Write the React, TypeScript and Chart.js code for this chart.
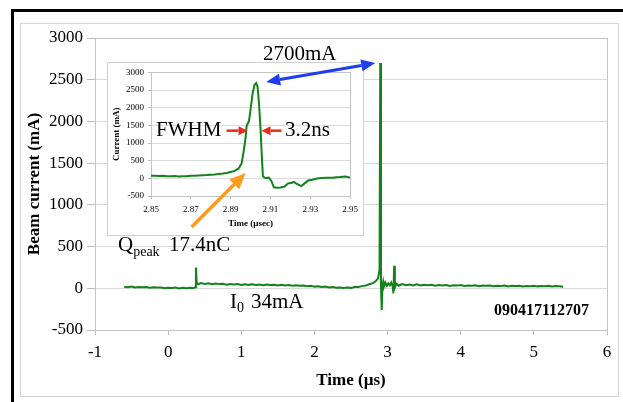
import React, { useEffect, useRef } from 'react';
import { Chart, registerables } from 'chart.js';

Chart.register(...registerables);

const SERIF = '"Liberation Serif", "Times New Roman", serif';
const GREEN = '#14821c';

// ---- main trace (time in µs, current in mA) ----
const mainTime = [
  -0.6, -0.55, -0.5, -0.45, -0.4, -0.35, -0.3, -0.25, -0.2, -0.15, -0.1, -0.05,
  0.0, 0.05, 0.1, 0.15, 0.2, 0.25, 0.3, 0.35, 0.37, 0.38, 0.39, 0.41,
  0.45, 0.5, 0.55, 0.6, 0.65, 0.7, 0.75, 0.8, 0.85, 0.9, 0.95, 1.0,
  1.05, 1.1, 1.15, 1.2, 1.25, 1.3, 1.35, 1.4, 1.45, 1.5, 1.55, 1.6,
  1.65, 1.7, 1.75, 1.8, 1.85, 1.9, 1.95, 2.0, 2.05, 2.1, 2.15, 2.2,
  2.25, 2.3, 2.35, 2.4, 2.45, 2.5, 2.55, 2.6, 2.65, 2.7, 2.75, 2.8,
  2.84, 2.87, 2.89, 2.9, 2.91, 2.92, 2.93, 2.94, 2.95, 2.97, 2.99, 3.01,
  3.03, 3.05, 3.07, 3.08, 3.09, 3.1, 3.12, 3.15,
  3.2, 3.25, 3.3, 3.35, 3.4, 3.45, 3.5, 3.55, 3.6, 3.65, 3.7, 3.75, 3.8, 3.85, 3.9, 3.95,
  4.0, 4.05, 4.1, 4.15, 4.2, 4.25, 4.3, 4.35, 4.4, 4.45, 4.5, 4.55,
  4.6, 4.65, 4.7, 4.75, 4.8, 4.85, 4.9, 4.95,
  5.0, 5.05, 5.1, 5.15, 5.2, 5.25, 5.3, 5.35, 5.4,
];
const mainCurrent = [
  18, 12, 20, 9, 14, 11, 16, 6, 12, 8, 10, 2,
  7, 4, 8, -2, 5, 1, 6, 3, 12, 250, 70, 48,
  62, 52, 60, 48, 57, 50, 54, 44, 52, 46, 50, 40,
  49, 41, 47, 40, 46, 37, 44, 38, 42, 34, 41, 33,
  39, 31, 36, 30, 34, 25, 30, 20, 25, 15, 20, 9,
  14, 6, 10, 3, 9, 5, 14, 15, 26, 34, 48, 62,
  88, 120, 220, 2700, 20, -260, 40, 80, 20, 70, 30, 60,
  35, 70, 20, -60, 270, 10, 55, 30,
  50, 38, 46, 35, 47, 33, 41, 36, 43, 30, 39, 34, 40, 28, 36, 32,
  38, 27, 34, 30, 36, 25, 32, 29, 34, 24, 30, 27,
  32, 22, 29, 26, 31, 22, 28, 25,
  31, 23, 28, 24, 30, 22, 27, 23, 18,
];
const mainXTicks = [-1, 0, 1, 2, 3, 4, 5, 6];
const mainYTicks = [-500, 0, 500, 1000, 1500, 2000, 2500, 3000];

// ---- inset: zoom on the bunch ----
const insetTime = [
  2.85, 2.852, 2.854, 2.856, 2.858, 2.86, 2.862, 2.864, 2.866, 2.868, 2.87, 2.872,
  2.874, 2.876, 2.878, 2.88, 2.882, 2.884, 2.886, 2.888, 2.89, 2.892, 2.894, 2.8955,
  2.8965, 2.8975, 2.898, 2.8992, 2.9, 2.901, 2.902, 2.9028, 2.9035, 2.9042, 2.905, 2.9056,
  2.9062, 2.907, 2.908, 2.9092, 2.9105, 2.9117, 2.913, 2.915, 2.917, 2.919, 2.9205, 2.9217,
  2.923, 2.924, 2.9255, 2.927, 2.929, 2.931, 2.934, 2.936, 2.938, 2.941, 2.943, 2.945,
  2.9475, 2.95,
];
const insetCurrent = [
  70, 75, 65, 72, 60, 58, 66, 55, 62, 58, 70, 72,
  80, 90, 95, 105, 110, 125, 135, 150, 180, 210, 280, 420,
  750, 1150, 1480, 1620, 1950, 2400, 2650, 2700, 2600, 2150, 1400, 700,
  60, 20, 10, 20, -80, -253, -265, -260, -230, -140, -130, -100,
  -150, -180, -220, -150, -60, -40, 0, 10, 20, 20, 30, 35,
  50, 20,
];
const insetXTicks = [2.85, 2.87, 2.89, 2.91, 2.93, 2.95];
const insetYTicks = [-500, 0, 500, 1000, 1500, 2000, 2500, 3000];

// annotation anchors (data units)
const mainPeak = { x: 2.9, y: 2700 };
const insetPeak = { x: 2.9028, y: 2700 };
const fwhm = { left: 2.8985, right: 2.9055, level: 1350 };
const chargeMark = { x: 2.8975, y: 150 };

const framePlugin = {
  id: 'plotFrame',
  beforeDatasetsDraw(chart: any, _a: any, opts: any) {
    const { ctx, chartArea: a } = chart;
    ctx.save();
    ctx.strokeStyle = opts.color || '#c4c4c4';
    ctx.lineWidth = 1;
    ctx.strokeRect(
      Math.round(a.left) + 0.5,
      Math.round(a.top) + 0.5,
      Math.round(a.right - a.left),
      Math.round(a.bottom - a.top)
    );
    ctx.restore();
  },
};

function drawArrowHead(ctx: CanvasRenderingContext2D, tipX: number, tipY: number, fromX: number, fromY: number, len: number, half: number) {
  const ang = Math.atan2(tipY - fromY, tipX - fromX);
  const bx = tipX - len * Math.cos(ang);
  const by = tipY - len * Math.sin(ang);
  ctx.beginPath();
  ctx.moveTo(tipX, tipY);
  ctx.lineTo(bx + half * Math.sin(ang), by - half * Math.cos(ang));
  ctx.lineTo(bx - half * Math.sin(ang), by + half * Math.cos(ang));
  ctx.closePath();
  ctx.fill();
  return { bx, by };
}

function drawArrow(
  ctx: CanvasRenderingContext2D,
  x1: number, y1: number, x2: number, y2: number,
  color: string, width: number, len: number, half: number, both: boolean
) {
  ctx.save();
  ctx.strokeStyle = color;
  ctx.fillStyle = color;
  ctx.lineWidth = width;
  const end = drawArrowHead(ctx, x2, y2, x1, y1, len, half);
  let start = { bx: x1, by: y1 };
  if (both) start = drawArrowHead(ctx, x1, y1, x2, y2, len, half);
  ctx.beginPath();
  ctx.moveTo(start.bx, start.by);
  ctx.lineTo(end.bx, end.by);
  ctx.stroke();
  ctx.restore();
}

const INSET_LEFT = 107;
const INSET_TOP = 62;
const INSET_W = 255;
const INSET_H = 172;

const plain = (v: any) => String(v);

export default function App() {
  const mainRef = useRef<HTMLCanvasElement>(null);
  const insetRef = useRef<HTMLCanvasElement>(null);
  const overlayRef = useRef<HTMLCanvasElement>(null);

  useEffect(() => {
    document.body.style.margin = '0';
    const tickColor = '#bdbdbd';

    const main = new Chart(mainRef.current!, {
      type: 'scatter',
      data: {
        datasets: [
          {
            data: mainTime.map((t, i) => ({ x: t, y: mainCurrent[i] })),
            showLine: true,
            borderColor: GREEN,
            borderWidth: 2,
            pointRadius: 0,
            tension: 0,
          },
        ],
      },
      options: {
        animation: false,
        responsive: false,
        maintainAspectRatio: false,
        devicePixelRatio: 1,
        layout: { padding: { left: 20, right: 16, top: 38, bottom: 7 } },
        plugins: {
          legend: { display: false },
          tooltip: { enabled: false },
          plotFrame: { color: '#c4c4c4' },
        } as any,
        scales: {
          x: {
            type: 'linear',
            min: -1,
            max: 6,
            afterBuildTicks: (s: any) => { s.ticks = mainXTicks.map((v) => ({ value: v })); },
            afterFit: (s: any) => { s.height = 65; },
            ticks: { color: '#000', font: { family: SERIF, size: 17 }, padding: 7, maxRotation: 0, autoSkip: false, callback: plain },
            grid: { drawOnChartArea: false, drawTicks: true, tickLength: 5, color: tickColor },
            border: { color: tickColor },
            title: {
              display: true,
              text: 'Time (µs)',
              color: '#000',
              font: { family: SERIF, size: 17, weight: 'bold' },
              padding: { top: 4, bottom: 4 },
            },
          },
          y: {
            type: 'linear',
            min: -500,
            max: 3000,
            afterBuildTicks: (s: any) => { s.ticks = mainYTicks.map((v) => ({ value: v })); },
            afterFit: (s: any) => { s.width = 75; },
            ticks: { color: '#000', font: { family: SERIF, size: 17 }, padding: 4, autoSkip: false, callback: plain },
            grid: { color: '#d9d9d9', tickColor: tickColor, tickLength: 8 },
            border: { color: tickColor },
            title: {
              display: true,
              text: 'Beam current (mA)',
              color: '#000',
              font: { family: SERIF, size: 17, weight: 'bold' },
              padding: { top: 4, bottom: 4 },
            },
          },
        },
      } as any,
      plugins: [framePlugin],
    });

    const inset = new Chart(insetRef.current!, {
      type: 'scatter',
      data: {
        datasets: [
          {
            data: insetTime.map((t, i) => ({ x: t, y: insetCurrent[i] })),
            showLine: true,
            borderColor: GREEN,
            borderWidth: 2,
            pointRadius: 0,
            tension: 0,
          },
        ],
      },
      options: {
        animation: false,
        responsive: false,
        maintainAspectRatio: false,
        devicePixelRatio: 1,
        layout: { padding: { left: 0, right: 10, top: 8, bottom: 5 } },
        plugins: {
          legend: { display: false },
          tooltip: { enabled: false },
          plotFrame: { color: '#c4c4c4' },
        } as any,
        scales: {
          x: {
            type: 'linear',
            min: 2.85,
            max: 2.95,
            afterBuildTicks: (s: any) => { s.ticks = insetXTicks.map((v) => ({ value: v })); },
            afterFit: (s: any) => { s.height = 34; },
            ticks: {
              color: '#000',
              font: { family: SERIF, size: 9 },
              padding: 5,
              maxRotation: 0,
              autoSkip: false,
              callback: (v: any) => Number(v).toFixed(2),
            },
            grid: { drawOnChartArea: false, drawTicks: true, tickLength: 3, color: tickColor },
            border: { color: tickColor },
            title: {
              display: true,
              text: 'Time (µsec)',
              color: '#000',
              font: { family: SERIF, size: 9, weight: 'bold' },
              padding: { top: 0, bottom: 1 },
            },
          },
          y: {
            type: 'linear',
            min: -500,
            max: 3000,
            afterBuildTicks: (s: any) => { s.ticks = insetYTicks.map((v) => ({ value: v })); },
            afterFit: (s: any) => { s.width = 43; },
            ticks: { color: '#000', font: { family: SERIF, size: 9 }, padding: 4, autoSkip: false, callback: plain },
            grid: { color: '#dcdcdc', tickColor: tickColor, tickLength: 3 },
            border: { color: tickColor },
            title: {
              display: true,
              text: 'Current (mA)',
              color: '#000',
              font: { family: SERIF, size: 9, weight: 'bold' },
              padding: { top: 3, bottom: 0 },
            },
          },
        },
      } as any,
      plugins: [framePlugin],
    });

    // overlay: arrows and labels
    const ov = overlayRef.current!;
    const ctx = ov.getContext('2d')!;
    ctx.clearRect(0, 0, ov.width, ov.height);
    const ox = INSET_LEFT + 1;
    const oy = INSET_TOP + 1;
    const ix = (v: number) => ox + inset.scales.x.getPixelForValue(v);
    const iy = (v: number) => oy + inset.scales.y.getPixelForValue(v);
    const mx = (v: number) => main.scales.x.getPixelForValue(v);
    const my = (v: number) => main.scales.y.getPixelForValue(v);

    // blue double arrow: inset peak <-> main peak
    drawArrow(ctx, ix(insetPeak.x) + 10, iy(insetPeak.y) - 1, mx(mainPeak.x) - 5, my(mainPeak.y), '#1f3cf0', 3, 14, 6, true);
    // red FWHM arrows
    drawArrow(ctx, ix(fwhm.left) - 21, iy(fwhm.level), ix(fwhm.left), iy(fwhm.level), '#ee2a1c', 2.5, 9, 4.5, false);
    drawArrow(ctx, ix(fwhm.right) + 20, iy(fwhm.level), ix(fwhm.right), iy(fwhm.level), '#ee2a1c', 2.5, 9, 4.5, false);
    // orange charge arrow
    drawArrow(ctx, ix(chargeMark.x) - 54, iy(chargeMark.y) + 54, ix(chargeMark.x), iy(chargeMark.y), '#ff9b1a', 3.5, 16, 7, false);

    ctx.fillStyle = '#000';
    ctx.textBaseline = 'middle';
    ctx.textAlign = 'left';
    ctx.font = `21px ${SERIF}`;
    ctx.fillText('2700mA', 263, 54);
    ctx.fillText('FWHM', 156, 130);
    ctx.fillText('3.2ns', 285, 130);
    ctx.fillText('Q', 118, 245);
    const qw = ctx.measureText('Q').width;
    ctx.fillText('17.4nC', 169, 245);
    ctx.fillText('I', 230, 302);
    const iw = ctx.measureText('I').width;
    ctx.fillText('34mA', 251, 302);
    ctx.font = `14px ${SERIF}`;
    ctx.fillText('peak', 118 + qw, 252);
    ctx.fillText('0', 230 + iw, 308);
    ctx.font = `bold 16px ${SERIF}`;
    ctx.fillText('090417112707', 494, 311);

    return () => {
      main.destroy();
      inset.destroy();
    };
  }, []);

  return (
    <div style={{ position: 'absolute', left: 0, top: 0, width: 623, height: 402, background: '#fff', overflow: 'hidden' }}>
      <div
        style={{
          position: 'absolute', left: 11, top: 9, width: 640, height: 420,
          borderLeft: '3px solid #000', borderTop: '3px solid #000', boxSizing: 'border-box',
        }}
      />
      <div
        style={{
          position: 'absolute', left: 20, top: 23, width: 599, height: 374,
          border: '1px solid #d4d4d4', boxSizing: 'border-box',
        }}
      />
      <canvas ref={mainRef} width={623} height={402} style={{ position: 'absolute', left: 0, top: 0, width: 623, height: 402 }} />
      <div
        style={{
          position: 'absolute', left: INSET_LEFT, top: INSET_TOP, width: INSET_W, height: INSET_H,
          border: '1px solid #d0d0d0', background: '#fff',
        }}
      >
        <canvas ref={insetRef} width={INSET_W} height={INSET_H} style={{ display: 'block', width: INSET_W, height: INSET_H }} />
      </div>
      <canvas ref={overlayRef} width={623} height={402} style={{ position: 'absolute', left: 0, top: 0, width: 623, height: 402, pointerEvents: 'none' }} />
    </div>
  );
}
